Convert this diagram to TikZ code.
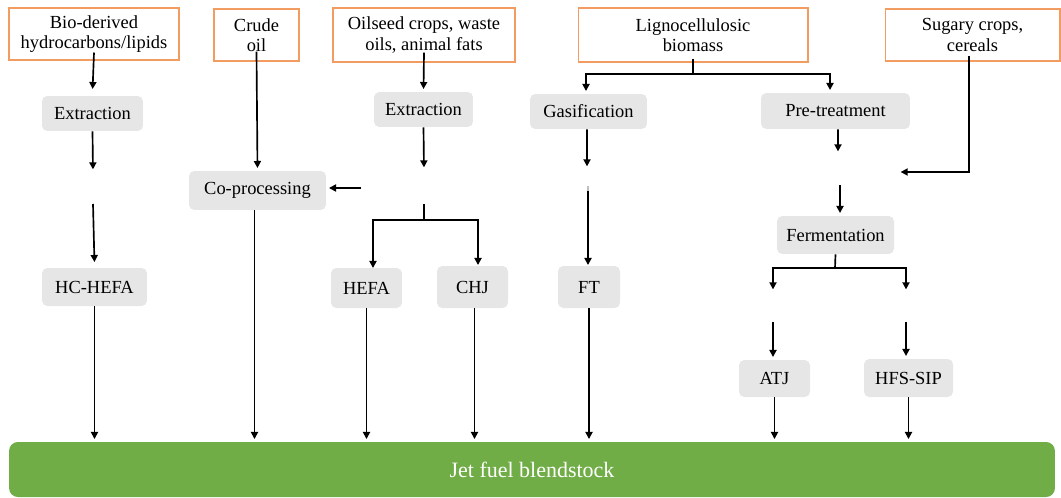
\documentclass[tikz,border=0pt]{standalone}
\usepackage{fontspec}
\setmainfont{Liberation Serif}
\usetikzlibrary{arrows.meta}
\definecolor{srcorange}{RGB}{242,156,98}
\definecolor{procgray}{RGB}{230,230,230}
\definecolor{jetgreen}{RGB}{112,173,71}
\tikzset{srcbox/.style = {draw = srcorange, line width = 0.6pt, align = center, inner sep = 0, font = \rmfamily\fontsize{10.5}{11.5}\selectfont}}
\tikzset{procbox/.style = {fill = procgray, rounded corners = 3pt, inner sep = 0, font = \rmfamily\fontsize{10.5}{12}\selectfont}}
\tikzset{arr/.style = {line width = 0.95pt, -{Triangle[length = 4pt, width = 4pt]}, shorten > = 1.5pt}}
\tikzset{plain/.style = {line width = 0.95pt}}

\begin{document}
\begin{tikzpicture}[x = 0.02cm, y = -0.02cm]
    \useasboundingbox (0, 0) rectangle (1061, 497);

    % feedstocks
    \node [srcbox, minimum width = 3.4cm, minimum height = 1.04cm] (bio) at (94, 34) {Bio-derived\\hydrocarbons/lipids};
    \node [srcbox, minimum width = 1.7cm, minimum height = 1.04cm] (crude) at (256.5, 35) {Crude\\oil};
    \node [srcbox, minimum width = 3.64cm, minimum height = 1.08cm] (oil) at (424, 35) {Oilseed crops, waste\\oils, animal fats};
    \node [srcbox, minimum width = 4.6cm, minimum height = 1.08cm] (ligno) at (693, 35) {Lignocellulosic\\biomass};
    \node [srcbox, minimum width = 3.5cm, minimum height = 1.04cm] (sugar) at (972.5, 35) {Sugary crops,\\cereals};

    % processes
    \node [procbox, minimum width = 2.02cm, minimum height = 0.7cm] (ext1) at (92.5, 113.5) {Extraction};
    \node [procbox, minimum width = 2.74cm, minimum height = 0.78cm] (coproc) at (257.5, 190.5) {Co-processing};
    \node [procbox, minimum width = 1.98cm, minimum height = 0.7cm] (ext2) at (423.5, 109.5) {Extraction};
    \node [procbox, minimum width = 2.34cm, minimum height = 0.7cm] (gasif) at (588.5, 111.5) {Gasification};
    \node [procbox, minimum width = 2.98cm, minimum height = 0.72cm] (pretreat) at (835.5, 111) {Pre-treatment};
    \node [procbox, minimum width = 2.34cm, minimum height = 0.76cm] (ferment) at (835.5, 235) {Fermentation};

    % pathways
    \node [procbox, minimum width = 2.1cm, minimum height = 0.76cm] (hchefa) at (94.5, 287) {HC-HEFA};
    \node [procbox, minimum width = 1.42cm, minimum height = 0.8cm] (hefa) at (366.5, 288) {HEFA};
    \node [procbox, minimum width = 1.42cm, minimum height = 0.84cm] (chj) at (472.5, 287) {CHJ};
    \node [procbox, minimum width = 1.24cm, minimum height = 0.84cm] (ft) at (589, 287) {FT};
    \node [procbox, minimum width = 1.42cm, minimum height = 0.74cm] (atj) at (774.5, 378.5) {ATJ};
    \node [procbox, minimum width = 1.78cm, minimum height = 0.76cm] (hfssip) at (908.5, 378) {HFS-SIP};

    \node [fill = jetgreen, rounded corners = 5pt, minimum width = 20.92cm, minimum height = 1.1cm, text = white, font = \rmfamily\fontsize{12.5}{14}\selectfont] (jet) at (532, 469.5) {Jet fuel blendstock};

    % free ends
    \coordinate (bioGapTop) at (93, 172);
    \coordinate (bioGapBot) at (93, 204);
    \coordinate (oilLeft) at (361, 188);
    \coordinate (oilGapTop) at (424, 170);
    \coordinate (oilGapBot) at (424, 204);
    \coordinate (oilSplit) at (424, 220);
    \coordinate (lignoSplit) at (693, 74);
    \coordinate (gasGapTop) at (587, 169);
    \coordinate (gasGapBot) at (588, 186);
    \coordinate (gasGapMid) at (588, 191);
    \coordinate (preGap) at (838, 154);
    \coordinate (sugarEnd) at (898, 172);
    \coordinate (fermGap) at (840, 185);
    \coordinate (fermSplit) at (835, 268);
    \coordinate (atjGapTop) at (773, 292);
    \coordinate (hfsGapTop) at (906, 292);
    \coordinate (atjGapBot) at (773, 322);
    \coordinate (hfsGapBot) at (906, 322);

    % connectors
    \draw [arr] ([yshift = 0.16cm]bio.south) -- ([yshift = 0.08cm]ext1.north);
    \draw [arr] (ext1.south) -- (bioGapTop);
    \draw [arr] (bioGapBot) -- ([yshift = 0.06cm]hchefa.north);
    \draw [arr] (hchefa.south) -- (hchefa.south |- jet.north);

    \draw [arr] ([yshift = 0.2cm]crude.south) -- (coproc.north);
    \draw [arr] (oilLeft) -- (oilLeft -| coproc.east);
    \draw [arr] ([xshift = -0.06cm]coproc.south) -- ([xshift = -0.06cm]coproc.south |- jet.north);

    \draw [arr] ([yshift = 0.2cm]oil.south) -- (ext2.north);
    \draw [arr] (ext2.south) -- (oilGapTop);
    \draw [plain] (oilGapBot) -- (oilSplit);
    \draw [arr] (oilSplit) -| ([xshift = 0.13cm, yshift = -0.06cm]hefa.north);
    \draw [arr] (oilSplit) -| ([xshift = 0.11cm, yshift = -0.04cm]chj.north);
    \draw [arr] (hefa.south) -- (hefa.south |- jet.north);
    \draw [arr] ([xshift = 0.04cm]chj.south) -- ([xshift = 0.04cm]chj.south |- jet.north);

    \draw [plain] ([yshift = 0.08cm]ligno.south) -- (lignoSplit);
    \draw [arr] (lignoSplit) -| ([xshift = -0.05cm]gasif.north);
    \draw [arr] (lignoSplit) -| ([xshift = -0.11cm]pretreat.north);
    \draw [arr] ([xshift = -0.03cm]gasif.south) -- (gasGapTop);
    \draw [black!25, line width = 0.6pt] (gasGapBot) -- (gasGapMid);
    \draw [arr] (gasGapMid) -- ([yshift = -0.04cm]gasGapMid |- ft.north);
    \draw [arr] (ft.south) -- (ft.south |- jet.north);

    \draw [arr] ([xshift = 0.05cm]pretreat.south) -- (preGap);
    \draw [arr] ([xshift = -0.07cm, yshift = 0.12cm]sugar.south) |- (sugarEnd);
    \draw [arr] (fermGap) -- (fermGap |- ferment.north);
    \draw [plain] (ferment.south) -- (fermSplit);
    \draw [arr] (fermSplit) -| (atjGapTop);
    \draw [arr] (fermSplit) -| (hfsGapTop);
    \draw [arr] (atjGapBot) -- (atjGapBot |- atj.north);
    \draw [arr] (hfsGapBot) -- (hfsGapBot |- hfssip.north);
    \draw [arr] (atj.south) -- (atj.south |- jet.north);
    \draw [arr] (hfssip.south) -- (hfssip.south |- jet.north);
\end{tikzpicture}
\end{document}
